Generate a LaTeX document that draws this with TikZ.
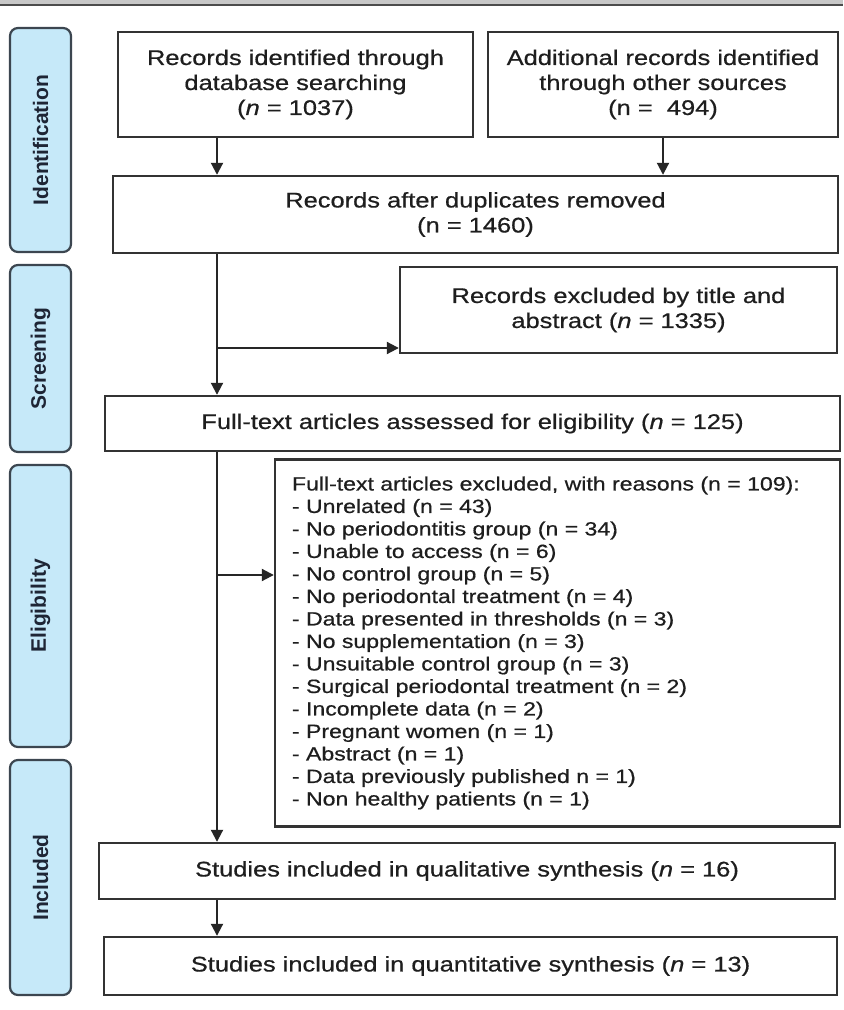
\documentclass[tikz,border=0pt]{standalone}
\usepackage{fontspec}
\setmainfont[FakeStretch=1.2, FakeBold=0.6]{Liberation Sans}
\newfontfamily\phasefont{Liberation Sans}
\usetikzlibrary{arrows.meta}
\definecolor{phasefill}{HTML}{C6E9F9}
\definecolor{phaseline}{HTML}{3C4650}
\definecolor{phaseink}{HTML}{1E2535}
\definecolor{boxline}{HTML}{333333}
\definecolor{boxink}{HTML}{1E1E1E}
\definecolor{bandgray}{HTML}{C8C8C8}

\begin{document}
\begin{tikzpicture}[x=0.5pt, y=-0.5pt,
  box/.style={draw=boxline, line width=1.2pt, fill=white, align=center, inner sep=0pt,
    text=boxink, font=\fontsize{10.6}{12.5}\selectfont},
  phase/.style={draw=phaseline, line width=1.1pt, fill=phasefill, rounded corners=4pt,
    rotate=90, minimum height=30.5pt, inner sep=0pt, text=phaseink,
    font=\phasefont\bfseries\fontsize{10.5}{12}\selectfont},
  arr/.style={draw=black!85, line width=1pt, -{Triangle[length=6pt, width=6pt]}}]

\fill[white] (0,0) rectangle (843,1010);
\useasboundingbox (0,0) rectangle (843,1010);

% top band
\fill[bandgray] (0,0) rectangle (843,4);
\draw[line width=1pt, black!70] (0,5) -- (843,5);

% phases
\node[phase, minimum width=112pt] (ident) at (40.5,140) {Identification};
\node[phase, minimum width=93.5pt] (screen) at (40.5,358.5) {Screening};
\node[phase, minimum width=141pt] (elig) at (40.5,606) {Eligibility};
\node[phase, minimum width=117.5pt] (incl) at (40.5,877.5) {Included};

% boxes
\node[box, minimum width=177.5pt, minimum height=52.5pt] (id1) at (295.5,84.5)
  {Records identified through\\database searching\\(\textit{n} = 1037)};
\node[box, minimum width=175pt, minimum height=52.5pt] (id2) at (663,84.5)
  {Additional records identified\\through other sources\\(n = \ 494)};
\node[box, minimum width=362.5pt, minimum height=38.5pt] (dup) at (475.5,214.5)
  {Records after duplicates removed\\(n = 1460)};
\node[box, minimum width=218.5pt, minimum height=43pt] (excl) at (618.5,310)
  {Records excluded by title and\\abstract (\textit{n} = 1335)};
\node[box, minimum width=367.5pt, minimum height=27.5pt] (full) at (472.5,423.5)
  {Full-text articles assessed for eligibility (\textit{n} = 125)};
\node[box, align=left, text width=265.5pt, inner xsep=8.5pt, minimum height=183.5pt,
  font=\fontsize{9.6}{11.25}\selectfont] (reasons) at (557.5,643)
  {Full-text articles excluded, with reasons (n = 109):\\
   - Unrelated (n = 43)\\
   - No periodontitis group (n = 34)\\
   - Unable to access (n = 6)\\
   - No control group (n = 5)\\
   - No periodontal treatment (n = 4)\\
   - Data presented in thresholds (n = 3)\\
   - No supplementation (n = 3)\\
   - Unsuitable control group (n = 3)\\
   - Surgical periodontal treatment (n = 2)\\
   - Incomplete data (n = 2)\\
   - Pregnant women (n = 1)\\
   - Abstract (n = 1)\\
   - Data previously published n = 1)\\
   - Non healthy patients (n = 1)};
\node[box, minimum width=368pt, minimum height=28pt] (qual) at (467,871)
  {Studies included in qualitative synthesis (\textit{n} = 16)};
\node[box, minimum width=366.5pt, minimum height=29pt] (quant) at (470.5,966)
  {Studies included in quantitative synthesis (\textit{n} = 13)};

% connectors
\coordinate (trunk) at (217,0);
\coordinate (b1) at (217,348);
\coordinate (b2) at (217,575);
\draw[arr] (id1.south -| trunk) -- (dup.north -| trunk);
\draw[arr] (id2.south) -- (id2.south |- dup.north);
\draw[arr] (dup.south -| trunk) -- (full.north -| trunk);
\draw[arr] (b1) -- (b1 -| excl.west);
\draw[arr] (full.south -| trunk) -- (qual.north -| trunk);
\draw[arr] (b2) -- (b2 -| reasons.west);
\draw[arr] (qual.south -| trunk) -- (quant.north -| trunk);

\end{tikzpicture}
\end{document}
